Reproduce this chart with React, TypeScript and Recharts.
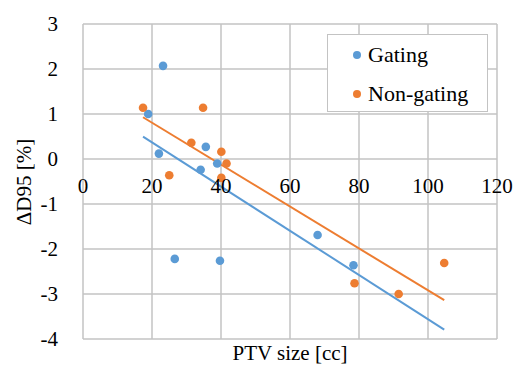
import { ScatterChart, Scatter, XAxis, YAxis, CartesianGrid, Legend } from 'recharts';

// PTV size [cc] vs ΔD95 [%]
const gatingSize = [23.2, 18.9, 22.0, 35.6, 34.1, 38.9, 26.6, 39.7, 68.0, 78.4];
const gatingDelta = [2.07, 1.0, 0.12, 0.27, -0.24, -0.1, -2.22, -2.26, -1.69, -2.36];

const nonGatingSize = [17.4, 34.8, 31.4, 40.1, 41.6, 25.0, 40.1, 78.7, 91.5, 104.7];
const nonGatingDelta = [1.14, 1.14, 0.36, 0.16, -0.1, -0.36, -0.42, -2.76, -3.0, -2.31];

const xTicks = [0, 20, 40, 60, 80, 100, 120];
const yTicks = [-4, -3, -2, -1, 0, 1, 2, 3];

const BLUE = '#5B9BD5';
const ORANGE = '#ED7D31';
const GRID = '#c3c3c3';
const FONT = "'Liberation Serif', 'DejaVu Serif', Tinos, 'Noto Serif', FreeSerif, Times, serif";

const WIDTH = 515;
const HEIGHT = 365;
const PLOT_TOP = 24;
const PLOT_H = 315;

const toPoints = (xs: number[], ys: number[]) => xs.map((x, i) => ({ x, y: ys[i] }));

// least squares trendline over the full x range of the data
function trend(xs: number[], ys: number[], x0: number, x1: number) {
    const n = xs.length;
    const mx = xs.reduce((a, b) => a + b, 0) / n;
    const my = ys.reduce((a, b) => a + b, 0) / n;
    let sxy = 0;
    let sxx = 0;
    xs.forEach((x, i) => {
        sxy += (x - mx) * (ys[i] - my);
        sxx += (x - mx) * (x - mx);
    });
    const slope = sxy / sxx;
    const icpt = my - slope * mx;
    return [
        { x: x0, y: icpt + slope * x0 },
        { x: x1, y: icpt + slope * x1 },
    ];
}

const gatingData = toPoints(gatingSize, gatingDelta);
const nonGatingData = toPoints(nonGatingSize, nonGatingDelta);

const allX = [...gatingSize, ...nonGatingSize];
const minX = Math.min(...allX);
const maxX = Math.max(...allX);
const gatingTrend = trend(gatingSize, gatingDelta, minX, maxX);
const nonGatingTrend = trend(nonGatingSize, nonGatingDelta, minX, maxX);

const dot = (color: string) => (p: any) => (
    <circle cx={p.cx} cy={p.cy} r={4.3} fill={color} />
);

// x tick labels sit just under the y = 0 line
const XTick = (props: any) => {
    const { x, payload } = props;
    const zeroY = PLOT_TOP + (PLOT_H * 3) / 7;
    return (
        <text x={x} y={zeroY + 34} textAnchor="middle" fill="#000" fontSize={21} style={{ fontFamily: FONT }}>
            {payload.value}
        </text>
    );
};

const YTick = (props: any) => {
    const { x, y, payload } = props;
    return (
        <text x={x} y={y} dy="0.35em" textAnchor="end" fill="#000" fontSize={21} style={{ fontFamily: FONT }}>
            {payload.value}
        </text>
    );
};

const LegendBox = (props: any) => {
    const items = (props.payload || []).filter((p: any) => p.type !== 'none');
    return (
        <div
            style={{
                width: 161,
                height: 78,
                boxSizing: 'border-box',
                border: `1.5px solid ${GRID}`,
                background: '#fff',
                position: 'relative',
                fontFamily: FONT,
                fontSize: 22,
                color: '#000',
            }}
        >
            {items.map((item: any, i: number) => (
                <div
                    key={item.value}
                    style={{
                        position: 'absolute',
                        left: 24,
                        top: 6 + i * 39,
                        height: 28,
                        display: 'flex',
                        alignItems: 'center',
                        whiteSpace: 'nowrap',
                    }}
                >
                    <svg width={16} height={10}>
                        <circle cx={5} cy={5} r={4} fill={item.color} />
                    </svg>
                    <span>{item.value}</span>
                </div>
            ))}
        </div>
    );
};

export default function App() {
    return (
        <div style={{ position: 'absolute', left: 0, top: 0, background: '#fff' }}>
            <ScatterChart
                width={WIDTH}
                height={HEIGHT}
                margin={{ top: PLOT_TOP, right: 18, bottom: 0, left: 0 }}
            >
                <CartesianGrid stroke={GRID} strokeWidth={1.5} />
                <XAxis
                    type="number"
                    dataKey="x"
                    domain={[0, 120]}
                    ticks={xTicks}
                    axisLine={false}
                    tickLine={false}
                    tick={<XTick />}
                    height={26}
                    label={{
                        content: (p: any) => {
                            const vb = p.viewBox;
                            return (
                                <text
                                    x={vb.x + vb.width / 2}
                                    y={vb.y + vb.height - 5}
                                    textAnchor="middle"
                                    fill="#000"
                                    fontSize={21}
                                    style={{ fontFamily: FONT }}
                                >
                                    PTV size [cc]
                                </text>
                            );
                        },
                    }}
                />
                <YAxis
                    type="number"
                    dataKey="y"
                    domain={[-4, 3]}
                    ticks={yTicks}
                    axisLine={false}
                    tickLine={false}
                    tickSize={0}
                    tickMargin={25}
                    width={83}
                    tick={<YTick />}
                    label={{
                        content: () => (
                            <text
                                x={24}
                                y={182}
                                transform="rotate(-90 24 182)"
                                textAnchor="middle"
                                dominantBaseline="central"
                                fill="#000"
                                fontSize={21}
                                style={{ fontFamily: FONT }}
                            >
                                ΔD95 [%]
                            </text>
                        ),
                    }}
                />
                <Legend
                    layout="vertical"
                    align="center"
                    verticalAlign="middle"
                    content={<LegendBox />}
                    wrapperStyle={{ left: 327, top: 34, width: 161, height: 78 }}
                />
                <Scatter
                    name="gating-trend"
                    data={gatingTrend}
                    line={{ stroke: BLUE, strokeWidth: 2 }}
                    shape={() => <g />}
                    legendType="none"
                    isAnimationActive={false}
                />
                <Scatter
                    name="nongating-trend"
                    data={nonGatingTrend}
                    line={{ stroke: ORANGE, strokeWidth: 2 }}
                    shape={() => <g />}
                    legendType="none"
                    isAnimationActive={false}
                />
                <Scatter
                    name="Gating"
                    data={gatingData}
                    fill={BLUE}
                    shape={dot(BLUE)}
                    isAnimationActive={false}
                />
                <Scatter
                    name="Non-gating"
                    data={nonGatingData}
                    fill={ORANGE}
                    shape={dot(ORANGE)}
                    isAnimationActive={false}
                />
            </ScatterChart>
        </div>
    );
}
